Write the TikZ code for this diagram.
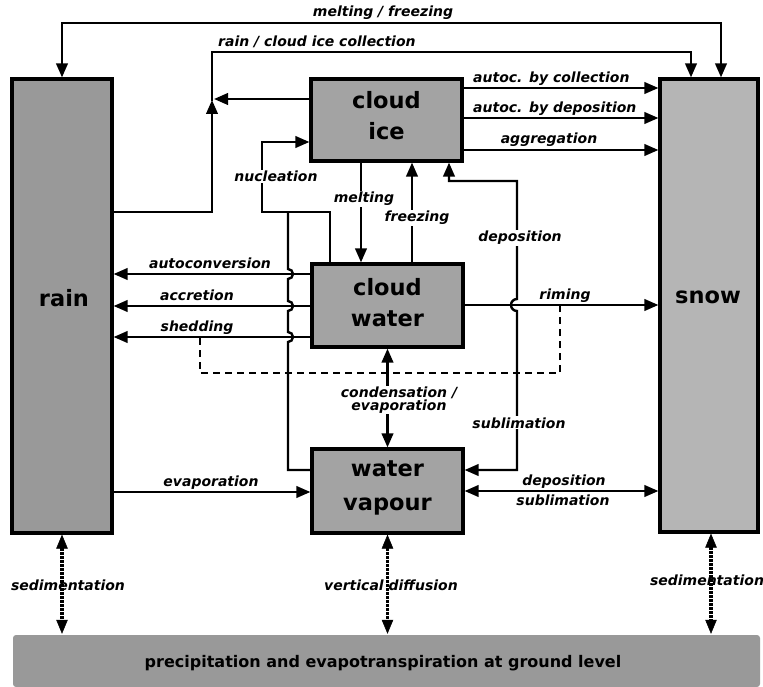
\documentclass[tikz,border=0pt]{standalone}
\usepackage{fontspec}
\setmainfont{DejaVu Sans}
\usetikzlibrary{arrows.meta}
\newcommand\lblf{\fontsize{14}{15}\selectfont\bfseries\itshape}
\newcommand\boxf{\fontsize{22.5}{26}\selectfont\bfseries}
\newcommand\grf{\fontsize{16}{18}\selectfont\bfseries}
\definecolor{rainfill}{gray}{0.60}
\definecolor{snowfill}{gray}{0.71}
\definecolor{midfill}{gray}{0.64}
\definecolor{groundfill}{gray}{0.60}
\begin{document}
\begin{tikzpicture}[x=1pt,y=-1pt,line width=2.4pt,
  arr/.style={-{Triangle[length=14pt,width=11.5pt]}},
  darr/.style={{Triangle[length=14pt,width=11.5pt]}-{Triangle[length=14pt,width=11.5pt]}},
  box/.style={draw,line width=3.2pt,inner sep=0pt},
  lbl/.style={font=\lblf,inner sep=1pt,anchor=base},
  lblw/.style={lbl,fill=white},
  boxtxt/.style={font=\boxf,inner sep=0pt,anchor=base},
  dotarr/.style={line width=3.5pt,dash pattern=on 2.5pt off 1.5pt,
    {Triangle[length=14pt,width=11.5pt,line width=0.5pt]}-{Triangle[length=14pt,width=11.5pt,line width=0.5pt]}},
  dashline/.style={line width=2.6pt,dash pattern=on 7pt off 5pt}]
\useasboundingbox (0,0) rectangle (763,687);

% boxes
\node[box,fill=rainfill,minimum width=100pt,minimum height=454pt] (rain) at (62,306) {};
\node[box,fill=snowfill,minimum width=98pt,minimum height=453pt] (snow) at (709,305.5) {};
\node[box,fill=midfill,minimum width=151pt,minimum height=82pt] (ice) at (386.5,120) {};
\node[box,fill=midfill,minimum width=151pt,minimum height=83pt] (water) at (387.5,305.5) {};
\node[box,fill=midfill,minimum width=151pt,minimum height=84pt] (vapour) at (387.5,491) {};
\node[fill=groundfill,rounded corners=3pt,minimum width=747pt,minimum height=52pt,inner sep=0pt] (ground) at (386.5,661) {};

% box texts
\node[boxtxt] (tice1) at (386.5,109) {cloud};
\node[boxtxt] (tice2) at (386.5,140) {ice};
\node[boxtxt] (twat1) at (387.5,295) {cloud};
\node[boxtxt] (twat2) at (387.5,326) {water};
\node[boxtxt] (tvap1) at (387.5,476) {water};
\node[boxtxt] (tvap2) at (387.5,510) {vapour};
\node[boxtxt] (train) at (64,306) {rain};
\node[boxtxt] (tsnow) at (708,303) {snow};
\node[font=\grf,inner sep=0pt,anchor=base] (tground) at (383,667) {precipitation and evapotranspiration at ground level};

% melting / freezing
\coordinate (mf1) at (62,23);
\coordinate (mf2) at (721,23);
\draw[darr] (rain.north) -- (mf1) -- (mf2) -- (snow.north -| mf2);
\node[lbl] (lmf) at (383,17) {melting / freezing};

% rain / cloud ice collection
\coordinate (j1) at (212,100);
\coordinate (rc1) at (212,52);
\coordinate (rc2) at (691,52);
\draw[arr] (rain.east |- 0,212) -- (212,212) -- (j1);
\draw[arr] (ice.west |- 0,99) -- (214,99);
\draw[arr] (212,101) -- (rc1) -- (rc2) -- (snow.north -| rc2);
\node[lbl,anchor=base west] (lrc) at (216,47) {rain / cloud ice collection};

% cloud ice -> snow
\draw[arr] (ice.east |- 0,88) -- (snow.west |- 0,88);
\draw[arr] (ice.east |- 0,118) -- (snow.west |- 0,118);
\draw[arr] (ice.east |- 0,150) -- (snow.west |- 0,150);
\node[lbl,anchor=base west] (lac) at (471,83) {autoc. by collection};
\node[lbl,anchor=base west] (lad) at (471,113) {autoc. by deposition};
\node[lbl] (lag) at (549,144) {aggregation};

% nucleation
\coordinate (n1) at (330,212);
\coordinate (n2) at (262,212);
\coordinate (n3) at (262,142);
\coordinate (n4) at (288,470);
\coordinate (n5) at (288,212);
\draw[arr] (water.north -| n1) -- (n1) -- (n2) -- (n3) -- (ice.west |- n3);
\draw (vapour.west |- n4) -- (n4) -- (288,342)
  arc[start angle=90,end angle=-90,radius=5] -- (288,311)
  arc[start angle=90,end angle=-90,radius=5] -- (288,279)
  arc[start angle=90,end angle=-90,radius=5] -- (n5);
\node[lblw] (lnuc) at (276,182) {nucleation};

% melting / freezing between ice and water
\draw[arr] (ice.south -| 361,0) -- (water.north -| 361,0);
\draw[arr] (water.north -| 412,0) -- (ice.south -| 412,0);
\node[lblw] (lmelt) at (364,203) {melting};
\node[lblw] (lfreez) at (417,222) {freezing};

% deposition / sublimation path ice <-> vapour
\coordinate (d1) at (449,181);
\coordinate (d2) at (517,181);
\coordinate (d3) at (517,470);
\draw[darr] (ice.south -| d1) -- (d1) -- (d2) -- (517,299)
  arc[start angle=-90,end angle=-270,radius=6] -- (d3) -- (vapour.east |- d3);
\node[lblw] (ldep1) at (520,242) {deposition};
\node[lblw] (lsub1) at (519,428) {sublimation};

% water -> rain
\draw[arr] (water.west |- 0,274) -- (rain.east |- 0,274);
\draw[arr] (water.west |- 0,306) -- (rain.east |- 0,306);
\draw[arr] (water.west |- 0,337) -- (rain.east |- 0,337);
\node[lbl] (lauto) at (210,269) {autoconversion};
\node[lbl] (lacc) at (197,300) {accretion};
\node[lbl] (lshed) at (197,331) {shedding};

% riming
\draw[arr] (water.east |- 0,305) -- (snow.west |- 0,305);
\node[lbl] (lrim) at (565,299) {riming};

% dashed link shedding - riming
\coordinate (s1) at (200,338);
\coordinate (s2) at (200,373);
\coordinate (s3) at (560,373);
\coordinate (s4) at (560,306);
\draw[dashline] (s1) -- (s2) -- (s3) -- (s4);

% condensation / evaporation
\draw[darr] (water.south) -- (vapour.north);
\node[lblw,anchor=center,align=center,font=\fontsize{14}{13}\selectfont\bfseries\itshape] (lcond) at (399,400) {condensation /\\evaporation};

% evaporation rain -> vapour
\draw[arr] (rain.east |- 0,492) -- (vapour.west |- 0,492);
\node[lbl] (levap) at (211,486) {evaporation};

% deposition / sublimation vapour <-> snow
\draw[darr] (vapour.east |- 0,491) -- (snow.west |- 0,491);
\node[lbl] (ldep2) at (564,485) {deposition};
\node[lbl] (lsub2) at (563,505) {sublimation};

% vertical exchange with ground
\draw[dotarr] (rain.south) -- (ground.north -| rain.south);
\draw[dotarr] (vapour.south) -- (ground.north -| vapour.south);
\draw[dotarr] (snow.south -| 711,0) -- (ground.north -| 711,0);
\node[lbl] (lsed1) at (68,590) {sedimentation};
\node[lbl] (lvd) at (391,590) {vertical diffusion};
\node[lbl] (lsed2) at (707,585) {sedimentation};
\end{tikzpicture}
\end{document}
